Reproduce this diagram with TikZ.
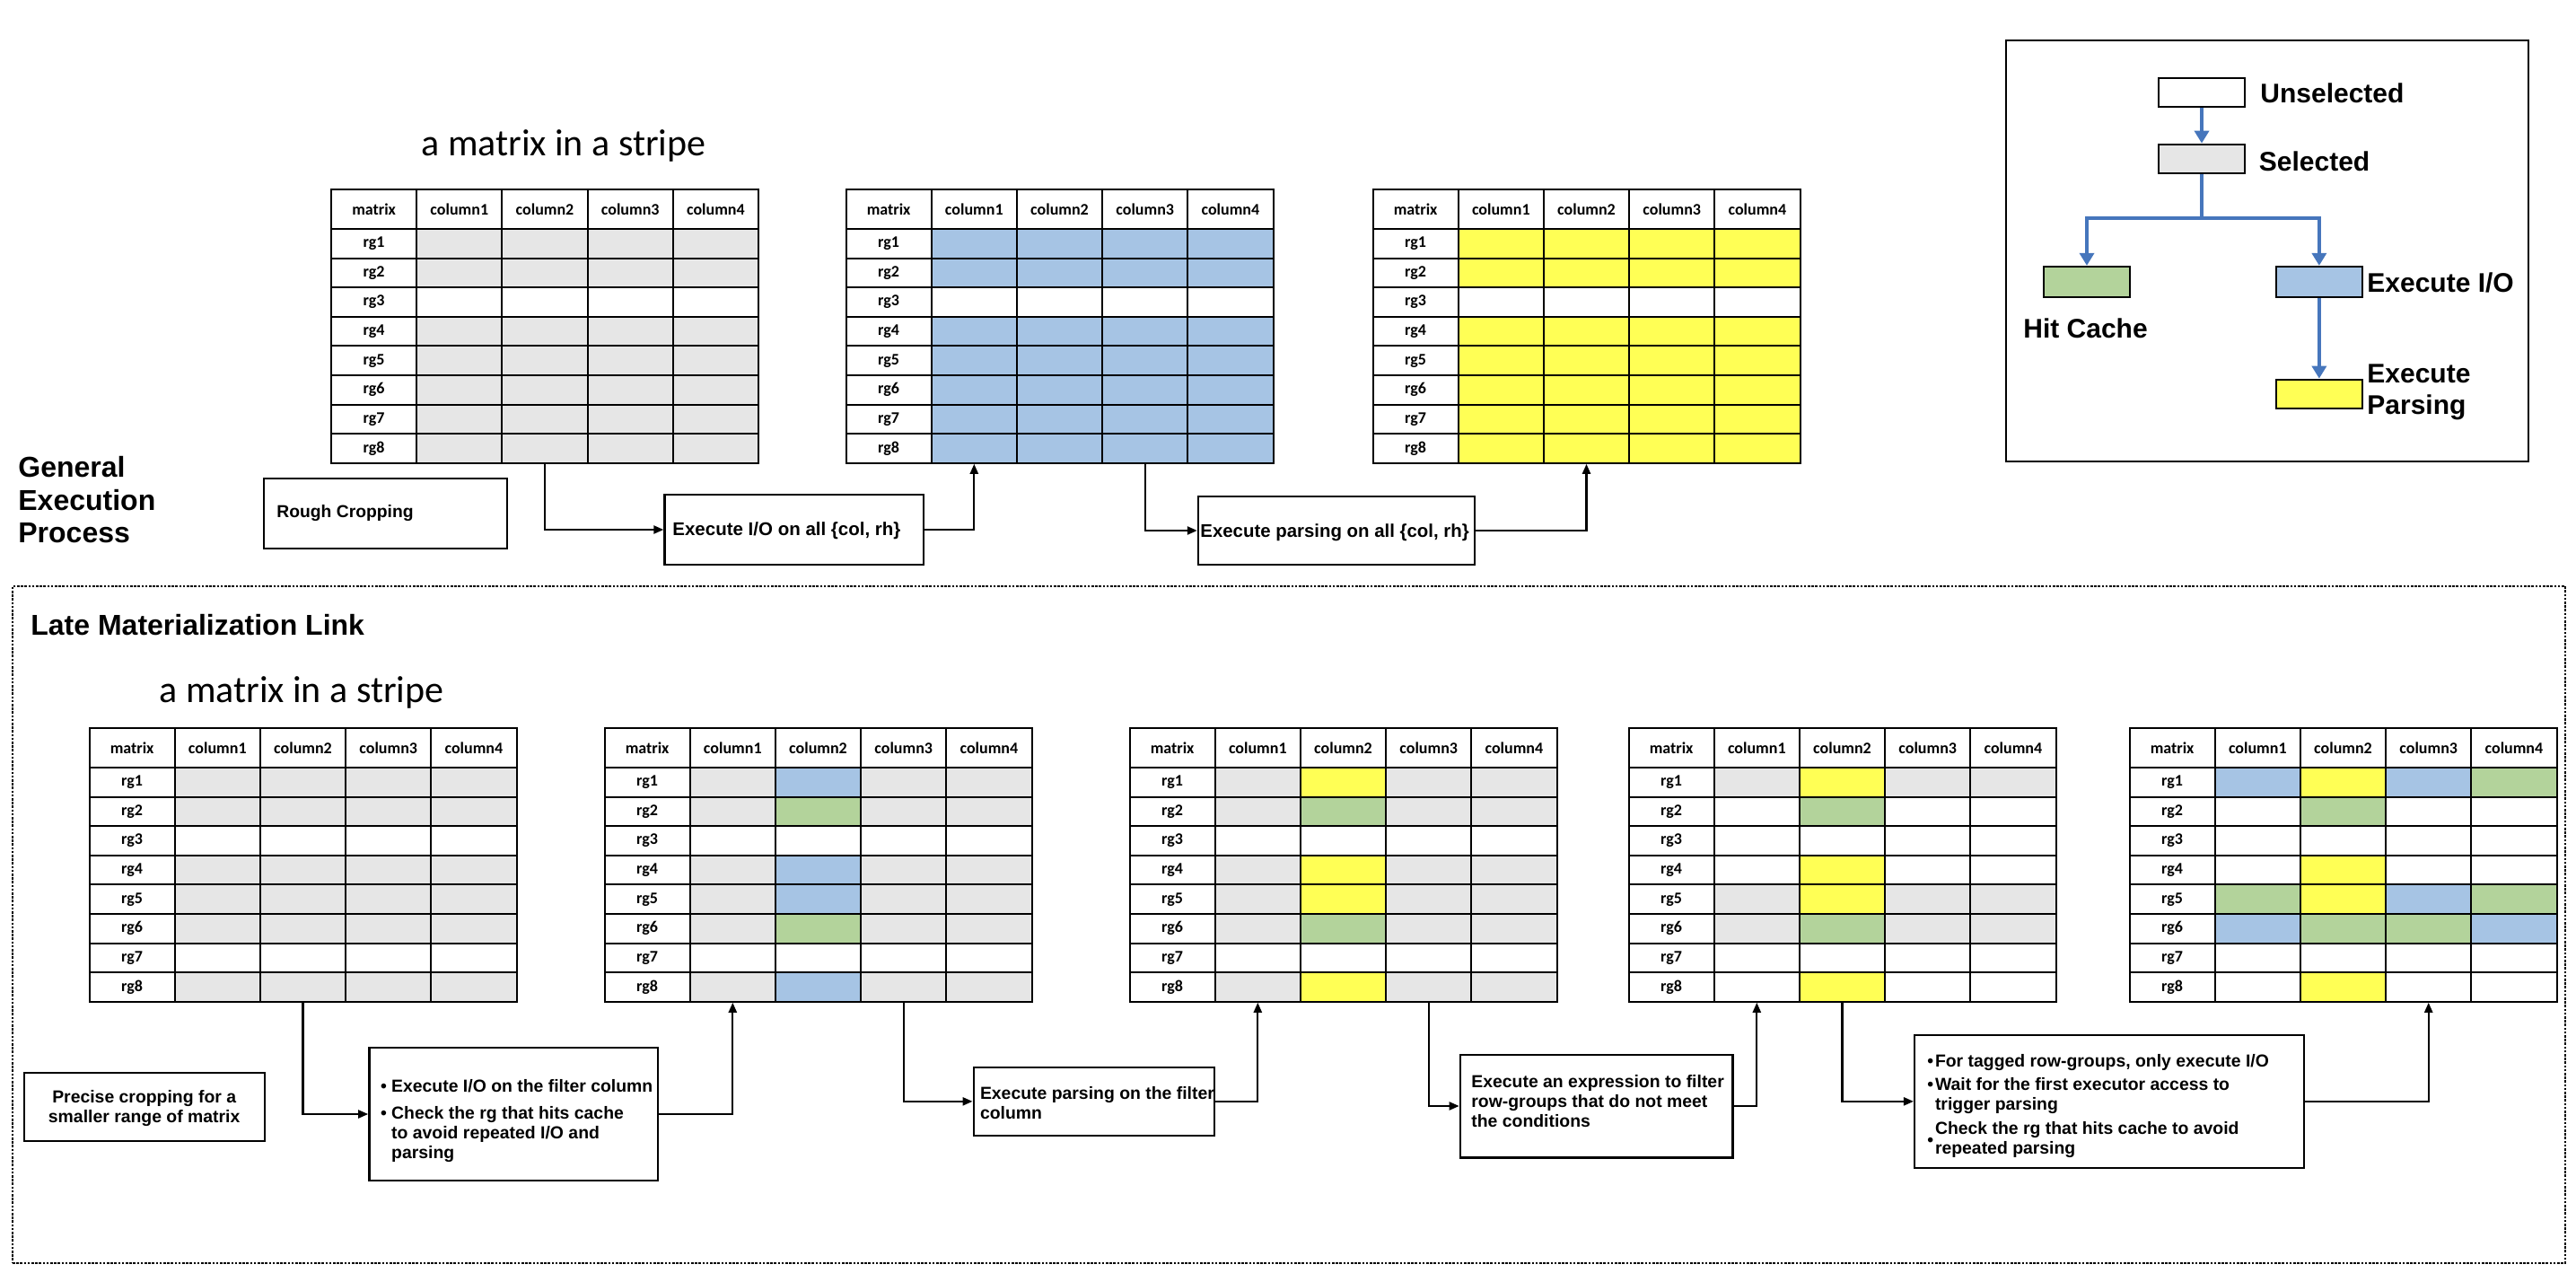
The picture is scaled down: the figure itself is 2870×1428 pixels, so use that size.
\documentclass[tikz,border=0pt]{standalone}
\usepackage{fontspec}
\setmainfont{Liberation Sans}
\newfontfamily\calib{Carlito}
\usetikzlibrary{arrows.meta}
\definecolor{cG}{HTML}{E6E6E6}
\definecolor{cW}{HTML}{FFFFFF}
\definecolor{cB}{HTML}{A6C4E4}
\definecolor{cN}{HTML}{B3D39B}
\definecolor{cY}{HTML}{FFFF55}
\definecolor{legblue}{HTML}{4676BC}
\tikzset{
  tbl/.style={draw=black, line width=1pt, inner sep=0pt, minimum width=47.6pt},
  hcell/.style={tbl, fill=white, minimum height=22pt, font=\calib\bfseries\fontsize{9pt}{10pt}\selectfont},
  rcell/.style={tbl, fill=white, minimum height=16.3pt, font=\calib\bfseries\fontsize{9pt}{10pt}\selectfont},
  dcell/.style={tbl, minimum height=16.3pt},
  boxnode/.style={draw=black, line width=1.2pt, inner sep=0pt, fill=white},
  boxtext/.style={inner sep=0pt, anchor=base west, align=left, font=\bfseries\fontsize{9.7pt}{11pt}\selectfont},
  conn/.style={draw=black, line width=1.1pt, -{Triangle[length=5.5pt,width=4.5pt]}},
  stitle/.style={inner sep=0pt, anchor=base west, font=\calib\fontsize{21pt}{25pt}\selectfont},
  sect/.style={inner sep=0pt, anchor=base west, align=left, font=\bfseries\fontsize{16pt}{18.15pt}\selectfont},
  legbox/.style={draw=black, line width=1pt, inner sep=0pt, minimum width=48pt, minimum height=16.2pt},
  legtext/.style={inner sep=0pt, anchor=base west, align=left, font=\bfseries\fontsize{15pt}{17.5pt}\selectfont},
  legarrow/.style={draw=legblue, line width=2pt, -{Triangle[length=7pt,width=8pt]}},
  legline/.style={draw=legblue, line width=2pt},
}
% #1 name, #2 left x, #3 top y, #4 rows of fill codes
\newcommand{\mtable}[4]{%
  \foreach \hd [count=\c from 0] in {matrix,column1,column2,column3,column4}
    \node[hcell] (#1-0-\c) at (#2+\c*95.2+47.6, #3+22) {\hd};
  \foreach \rw [count=\r] in {#4} {
    \node[rcell] (#1-\r-0) at (#2+47.6, #3+44+\r*32.6-16.3) {rg\r};
    \foreach \cl [count=\c] in \rw
      \node[dcell, fill=c\cl] (#1-\r-\c) at (#2+\c*95.2+47.6, #3+44+\r*32.6-16.3) {};
  }%
}
\begin{document}
\begin{tikzpicture}[x=0.5pt,y=-0.5pt]
\useasboundingbox (0,0) rectangle (2870,1428);

% ---------- lower frame ----------
\node[draw=black, line width=1.2pt, dash pattern=on 1.3pt off 0.8pt, inner sep=0pt,
      minimum width=1422pt, minimum height=377pt] (frame) at (1436,1030) {};

% ---------- section titles (multi-line nodes: base = last line) ----------
\node[sect] (gep) at (20,604.3) {General\\Execution\\Process};
\node[sect] (lml) at (34,707) {Late Materialization Link};
\node[stitle] (ttl1) at (469,174) {a matrix in a stripe};
\node[stitle] (ttl2) at (177,782) {a matrix in a stripe};

% ---------- top tables ----------
\mtable{T1}{369}{211}{{G,G,G,G},{G,G,G,G},{W,W,W,W},{G,G,G,G},{G,G,G,G},{G,G,G,G},{G,G,G,G},{G,G,G,G}}
\mtable{T2}{942.5}{211}{{B,B,B,B},{B,B,B,B},{W,W,W,W},{B,B,B,B},{B,B,B,B},{B,B,B,B},{B,B,B,B},{B,B,B,B}}
\mtable{T3}{1529.5}{211}{{Y,Y,Y,Y},{Y,Y,Y,Y},{W,W,W,W},{Y,Y,Y,Y},{Y,Y,Y,Y},{Y,Y,Y,Y},{Y,Y,Y,Y},{Y,Y,Y,Y}}

% ---------- lower tables ----------
\mtable{L1}{99.5}{811}{{G,G,G,G},{G,G,G,G},{W,W,W,W},{G,G,G,G},{G,G,G,G},{G,G,G,G},{W,W,W,W},{G,G,G,G}}
\mtable{L2}{673.5}{811}{{G,B,G,G},{G,N,G,G},{W,W,W,W},{G,B,G,G},{G,B,G,G},{G,N,G,G},{W,W,W,W},{G,B,G,G}}
\mtable{L3}{1258.5}{811}{{G,Y,G,G},{G,N,G,G},{W,W,W,W},{G,Y,G,G},{G,Y,G,G},{G,N,G,G},{W,W,W,W},{G,Y,G,G}}
\mtable{L4}{1814.5}{811}{{G,Y,G,G},{W,N,W,W},{W,W,W,W},{W,Y,W,W},{G,Y,G,G},{G,N,G,G},{W,W,W,W},{W,Y,W,W}}
\mtable{L5}{2372.5}{811}{{B,Y,B,N},{W,N,W,W},{W,W,W,W},{W,Y,W,W},{N,Y,B,N},{B,N,N,B},{W,W,W,W},{W,Y,W,W}}

% ---------- top boxes ----------
\node[boxnode, minimum width=135.5pt, minimum height=39pt] (TB0) at (429.5,572) {};
\node[boxnode, minimum width=144.25pt, minimum height=39pt] (TB1) at (884.75,590) {};
\node[boxnode, minimum width=154pt, minimum height=38pt] (TB2) at (1489,591) {};
\node[boxtext, font=\bfseries\fontsize{9.65pt}{11pt}\selectfont] (TB0t) at (308,576.7) {Rough Cropping};
\node[boxtext, font=\bfseries\fontsize{10.25pt}{11pt}\selectfont] (TB1t) at (749,596) {Execute I/O on all \{col, rh\}};
\node[boxtext, font=\bfseries\fontsize{10.2pt}{11pt}\selectfont] (TB2t) at (1337,598) {Execute parsing on all \{col, rh\}};

% ---------- lower boxes ----------
\node[boxnode, minimum width=134pt, minimum height=38.15pt] (LB0) at (160.75,1232.85) {};
\node[boxnode, minimum width=160.7pt, minimum height=74pt] (LB1) at (572.1,1241) {};
\node[boxnode, minimum width=134pt, minimum height=38.15pt] (LB2) at (1218.75,1226.85) {};
\node[boxnode, minimum width=151.85pt, minimum height=57.3pt] (LB3) at (1778.75,1232) {};
\node[boxnode, minimum width=217pt, minimum height=74.15pt] (LB4) at (2350.15,1226.85) {};

\node[boxtext, anchor=base, align=center, font=\bfseries\fontsize{9.7pt}{10.85pt}\selectfont] (LB0t) at (160.7,1250) {Precise cropping for a\\smaller range of matrix};
\node[boxtext] (LB1t) at (423.8,1290) {\makebox[6pt][l]{\textbullet}Execute I/O on the filter column\\[4pt]
  \makebox[6pt][l]{\textbullet}Check the rg that hits cache\\\hspace*{6pt}to avoid repeated I/O and\\\hspace*{6pt}parsing};
\node[boxtext] (LB2t) at (1091.6,1246) {Execute parsing on the filter\\column};
\node[boxtext] (LB3t) at (1639,1255.7) {Execute an expression to filter\\row-groups that do not meet\\the conditions};
\node[boxtext] (LB4t) at (2147,1285.5) {\makebox[4.3pt][l]{\textbullet}For tagged row-groups, only execute I/O\\[2pt]
  \makebox[4.3pt][l]{\textbullet}Wait for the first executor access to\\\hspace*{4.3pt}trigger parsing\\[2.5pt]
  \makebox[4.3pt][l]{\raisebox{-6.5pt}[0pt][0pt]{\textbullet}}Check the rg that hits cache to avoid\\\hspace*{4.3pt}repeated parsing};

% ---------- connectors top ----------
\draw[conn] (T1-8-2.south) |- (TB1.west);
\draw[conn] (TB1.east) -| (T2-8-1.south);
\draw[conn] (T2-8-3.south) |- (TB2.west);
\draw[conn] (TB2.east) -| (T3-8-2.south);

% ---------- connectors lower ----------
\draw[conn] (L1-8-2.south) |- (LB1.west);
\draw[conn] (LB1.east) -| (L2-8-1.south);
\draw[conn] (L2-8-3.south) |- (LB2.west);
\draw[conn] (LB2.east) -| (L3-8-1.south);
\draw[conn] (L3-8-3.south) |- (LB3.west);
\draw[conn] (LB3.east) -| (L4-8-1.south);
\draw[conn] (L4-8-2.south) |- (LB4.west);
\draw[conn] (LB4.east) -| (L5-8-3.south);

% ---------- legend ----------
\node[draw=black, line width=1pt, inner sep=0pt, minimum width=291pt, minimum height=234.8pt] (LG) at (2526,279.5) {};
\node[legbox, fill=white] (lgU) at (2453,102.85) {};
\node[legbox, fill=cG] (lgS) at (2453,176.85) {};
\node[legbox, fill=cN, minimum height=17pt] (lgH) at (2325,313.85) {};
\node[legbox, fill=cB, minimum height=17pt] (lgE) at (2583.85,313.85) {};
\node[legbox, fill=cY] (lgP) at (2583.85,438.85) {};
\coordinate (lgJ) at (2453,243);
\draw[legarrow] (lgU) -- (lgS);
\draw[legline] (lgS.south) -- (lgJ);
\draw[legarrow] (lgJ) -| (lgH.north);
\draw[legarrow] (lgJ) -| (lgE.north);
\draw[legarrow] (lgE) -- (lgP);
\node[legtext] (lgUt) at (2518,115) {Unselected};
\node[legtext] (lgSt) at (2516.5,190.7) {Selected};
\node[legtext] (lgHt) at (2254,376.7) {Hit Cache};
\node[legtext] (lgEt) at (2637,326) {Execute I/O};
\node[legtext] (lgPt) at (2637,461.7) {Execute\\Parsing};
\end{tikzpicture}
\end{document}
